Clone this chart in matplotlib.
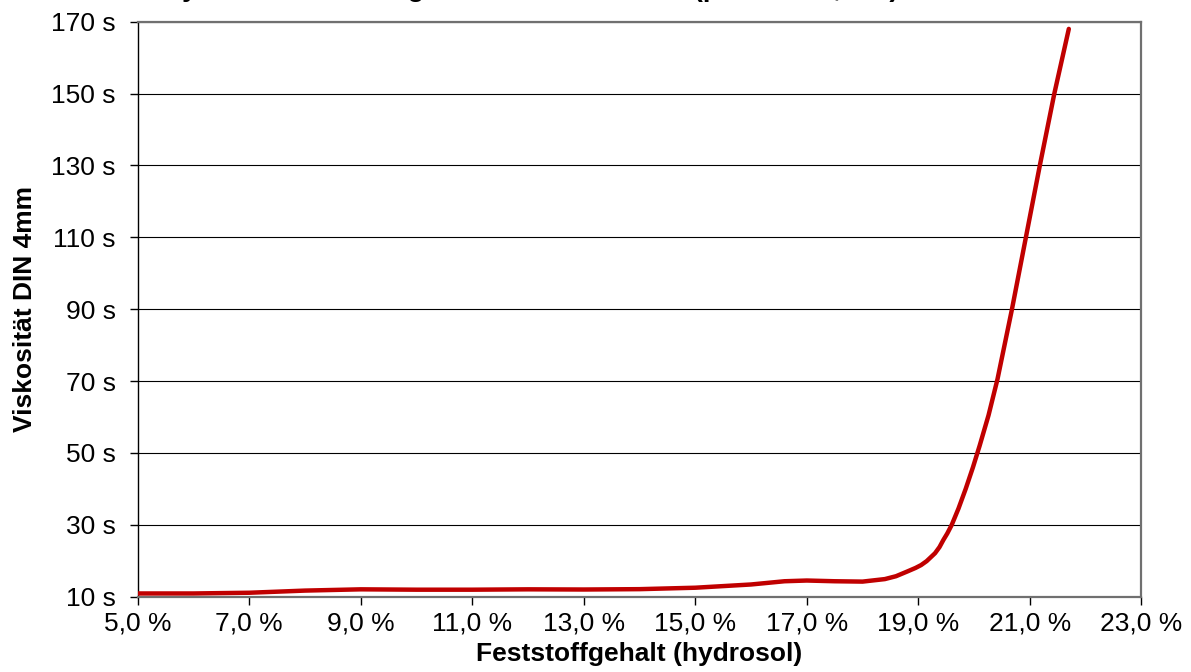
import matplotlib
matplotlib.use("Agg")
import matplotlib.pyplot as plt

plt.rcParams['font.family'] = ['Liberation Sans', 'DejaVu Sans']

# Feststoffgehalt in %, Viskosität DIN 4mm in s
feststoff = [5.0, 6.0, 7.0, 8.0, 9.0, 10.0, 11.0, 12.0, 13.0, 14.0, 15.0, 16.0,
             16.6, 17.0, 17.5, 18.0, 18.4, 18.6, 18.8, 18.95, 19.05, 19.15, 19.3,
             19.38, 19.45, 19.52, 19.6, 19.72, 19.85, 19.98, 20.1, 20.26, 20.42,
             20.68, 20.93, 21.18, 21.44, 21.70]
viskositaet = [10.9, 10.9, 11.1, 11.7, 12.05, 11.95, 11.95, 12.05, 12.0, 12.1, 12.5, 13.4,
               14.3, 14.5, 14.3, 14.2, 14.9, 15.7, 17.0, 18.0, 18.8, 19.9, 22.1,
               23.8, 25.8, 27.6, 30.0, 34.5, 40.0, 46.0, 52.0, 60.5, 70.5,
               90.0, 110.0, 130.0, 150.0, 168.0]

x_ticks = [5, 7, 9, 11, 13, 15, 17, 19, 21, 23]
y_ticks = [10, 30, 50, 70, 90, 110, 130, 150, 170]

title = "Hydrosol Feststoffgehalt und Viskosität (pH-Wert 8,0 %)"

W, H = 1191, 672
fig = plt.figure(figsize=(W / 100, H / 100), dpi=100)
ax = fig.add_axes([137.8 / W, (H - 596.7) / H, 1003.5 / W, 575 / H])

ax.plot(feststoff, viskositaet, color='#C00000', lw=3.2, solid_capstyle='round',
        solid_joinstyle='round', zorder=3)

ax.set_xlim(5, 23)
ax.set_ylim(10, 170)
ax.set_xticks(x_ticks)
ax.set_xticklabels([f"{t:.1f} %".replace('.', ',') for t in x_ticks])
ax.set_yticks(y_ticks)
ax.set_yticklabels([f"{t} s" for t in y_ticks])

ax.grid(axis='y', color='black', lw=0.8, zorder=1)
ax.tick_params(axis='both', direction='out', length=6, width=1, labelsize=19,
               color='black')
ax.tick_params(axis='y', pad=10)
ax.tick_params(axis='x', pad=5)

for side in ['top', 'right', 'bottom']:
    ax.spines[side].set_color('#707070')
    ax.spines[side].set_linewidth(1.6)
ax.spines['left'].set_color('black')
ax.spines['left'].set_linewidth(1)

ax.set_xlabel("Feststoffgehalt (hydrosol)", fontsize=19, fontweight='bold', labelpad=4)
ax.set_ylabel("Viskosität DIN 4mm", fontsize=19, fontweight='bold', labelpad=10)

# title sits above the picture, only its lower edge is visible
fig.text(530 / W, 1 + 4 / H, title, ha='center', va='baseline',
         fontsize=20, fontweight='bold')

fig.savefig("out.png", dpi=100)
plt.close(fig)
